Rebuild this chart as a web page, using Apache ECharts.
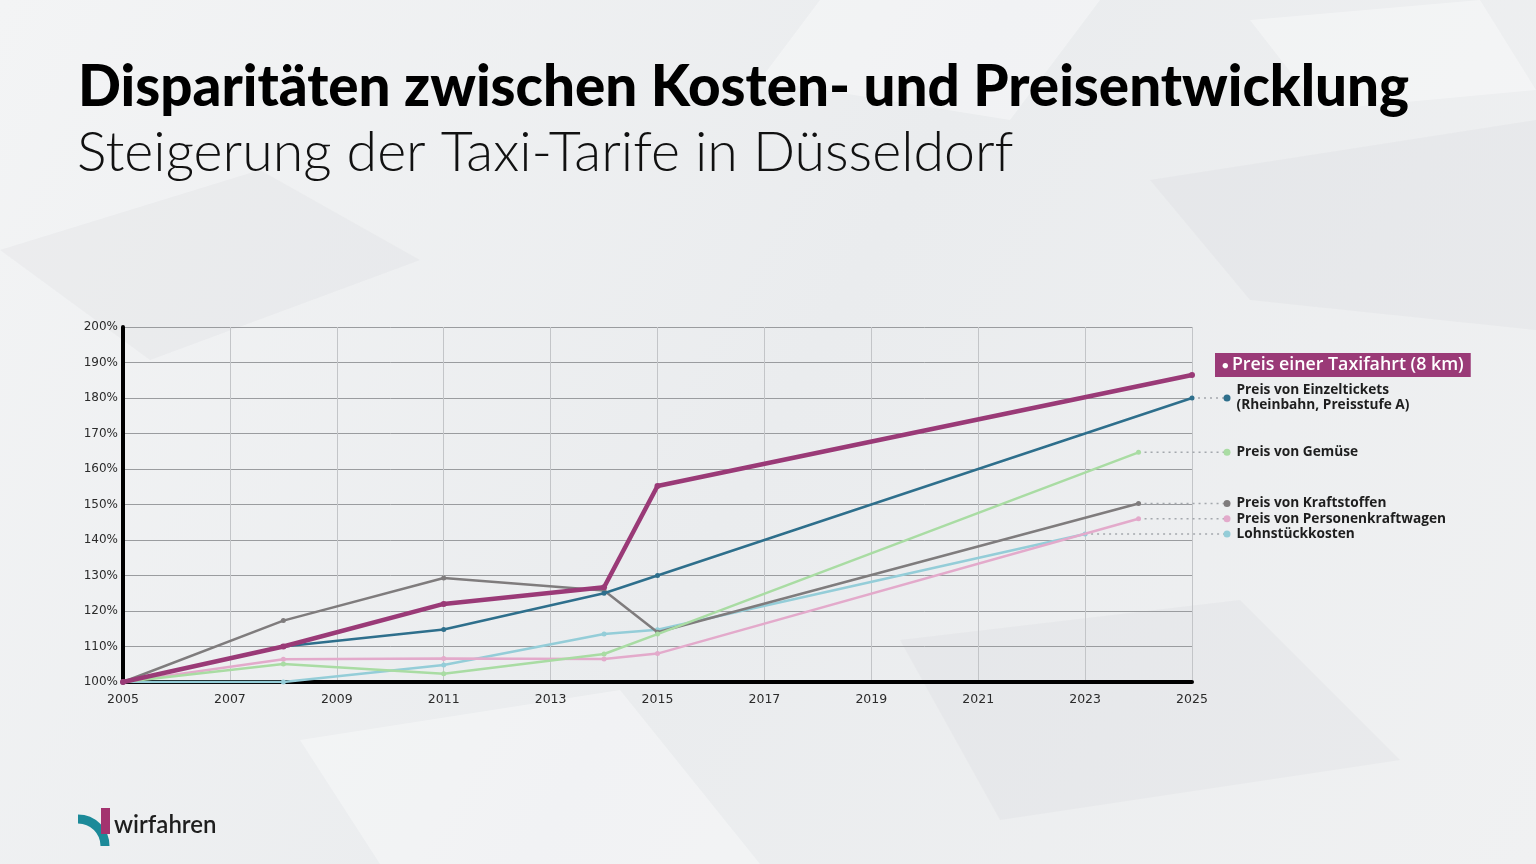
<!DOCTYPE html>
<html><head><meta charset="utf-8">
<script src="https://cdn.jsdelivr.net/npm/echarts@6/dist/echarts.min.js"></script>
<style>html,body{margin:0;padding:0;background:#eef0f2;}#c{width:1536px;height:864px;}</style>
</head><body><div id="c"></div>
<script>
// ---------- DATA ----------
const titleText = 'Disparitäten zwischen Kosten- und Preisentwicklung';
const subtitleText = 'Steigerung der Taxi-Tarife in Düsseldorf';
const startYear = 2005;
const endYear = 2025;
const yMin = 100, yMax = 200, yStep = 10;

const taxiYears   = [2005, 2008, 2011, 2014, 2015, 2025];
const taxiValues  = [100, 110, 122, 126.7, 155.2, 186.5];
const ticketYears = [2005, 2008, 2011, 2014, 2015, 2025];
const ticketValues= [100, 110, 114.8, 125, 130, 180];
const gemueseYears  = [2005, 2008, 2011, 2014, 2015, 2024];
const gemueseValues = [100, 105.1, 102.3, 107.9, 113.5, 164.7];
const kraftYears  = [2005, 2008, 2011, 2014, 2015, 2024];
const kraftValues = [100, 117.3, 129.3, 125.8, 114.0, 150.3];
const pkwYears    = [2005, 2008, 2011, 2014, 2015, 2024];
const pkwValues   = [100, 106.4, 106.6, 106.5, 108.0, 146.0];
const lohnYears   = [2005, 2008, 2011, 2014, 2015, 2023];
const lohnValues  = [100, 100, 104.8, 113.5, 114.7, 141.7];

const seriesNames = [
  'Preis einer Taxifahrt (8 km)',
  'Preis von Einzeltickets\n(Rheinbahn, Preisstufe A)',
  'Preis von Gemüse',
  'Preis von Kraftstoffen',
  'Preis von Personenkraftwagen',
  'Lohnstückkosten'
];

// ---------- STYLE ----------
const colors = ['#9a3a77', '#2e6f8c', '#a9dca3', '#7f7c7d', '#e3aacb', '#94cdd8'];
const widths = [4.5, 2.5, 2.5, 2.5, 2.5, 2.5];
const font = '"Open Sans", Lato, sans-serif';
const axisFont = '"DejaVu Sans", "Open Sans", sans-serif';

const gridL = 123, gridR = 1192, gridT = 327, gridB = 682;
const legendDotX = 1227;
const leaderMax = (endYear - startYear) * (legendDotX - gridL) / (gridR - gridL);

const sets = [
  [taxiYears, taxiValues], [ticketYears, ticketValues], [gemueseYears, gemueseValues],
  [kraftYears, kraftValues], [pkwYears, pkwValues], [lohnYears, lohnValues]
];

const series = [];
[5, 4, 3, 2, 1, 0].forEach(i => {
  const [ys, vs] = sets[i];
  const s = {
    type: 'line', name: seriesNames[i], xAxisIndex: 0, yAxisIndex: 0,
    data: ys.map((y, k) => [y - startYear, vs[k]]),
    symbol: 'circle', symbolSize: i === 0 ? 6 : 5, showSymbol: true,
    lineStyle: { color: colors[i], width: widths[i] },
    itemStyle: { color: colors[i] },
    z: 10 - i, animation: false, silent: true
  };
  if (i === 0) {
    s.endLabel = {
      show: true, distance: 0, offset: [23, -10], align: 'left', verticalAlign: 'middle',
      formatter: () => '{d|●} {t|' + seriesNames[0] + '}',
      backgroundColor: '#9a3a77', padding: [3, 7, 2, 7],
      rich: {
        d: { color: '#ffffff', fontSize: 11, fontFamily: font, lineHeight: 19 },
        t: { color: '#ffffff', fontSize: 17.8, fontWeight: 600, fontFamily: font, lineHeight: 19 }
      }
    };
  }
  series.push(s);
});
[1, 2, 3, 4, 5].forEach(i => {
  const [ys, vs] = sets[i];
  const lastX = ys[ys.length - 1] - startYear, lastV = vs[vs.length - 1];
  series.push({
    type: 'line', xAxisIndex: 1, yAxisIndex: 1, silent: true, animation: false,
    data: [
      { value: [lastX, lastV], symbol: 'none' },
      { value: [leaderMax, lastV], symbol: 'circle', symbolSize: 7,
        label: { show: true, position: 'right', distance: 6, formatter: seriesNames[i],
          color: '#1e1e1e', fontFamily: font, fontSize: 13.7, fontWeight: 700, lineHeight: 15 } }
    ],
    lineStyle: { color: '#a4a8ad', width: 1.4, type: [2, 4] },
    itemStyle: { color: colors[i] },
    z: 1
  });
});

// subtle background blocks (decoration only)
const bgBlocks = [
  [[0, 250], [260, 170], [420, 260], [150, 360]],
  [[820, 0], [1100, 0], [1010, 120], [760, 80]],
  [[1150, 180], [1536, 120], [1536, 330], [1250, 300]],
  [[300, 740], [620, 690], [760, 864], [380, 864]],
  [[900, 640], [1240, 600], [1400, 760], [1000, 820]],
  [[1250, 20], [1480, 0], [1536, 90], [1320, 110]]
];

const option = {
  backgroundColor: {
    type: 'linear', x: 0, y: 0, x2: 1, y2: 1,
    colorStops: [{ offset: 0, color: '#f3f4f5' }, { offset: 0.5, color: '#eaecee' }, { offset: 1, color: '#f0f1f2' }]
  },
  animation: false,
  grid: [
    { left: gridL, right: 1536 - gridR, top: gridT, bottom: 864 - gridB },
    { left: gridL, right: 1536 - legendDotX, top: gridT, bottom: 864 - gridB }
  ],
  xAxis: [
    {
      type: 'value', gridIndex: 0, min: 0, max: endYear - startYear, interval: 2,
      axisLine: { show: true, onZero: false, lineStyle: { color: '#000', width: 4 } },
      axisTick: { show: false },
      axisLabel: { formatter: v => String(v + startYear), color: '#2b2b2b', fontFamily: axisFont, fontSize: 12.5, margin: 11 },
      splitLine: { show: true, lineStyle: { color: '#c3c5c8', width: 1 } }
    },
    { type: 'value', gridIndex: 1, min: 0, max: leaderMax, show: false }
  ],
  yAxis: [
    {
      type: 'value', gridIndex: 0, min: yMin, max: yMax, interval: yStep,
      axisLine: { show: true, lineStyle: { color: '#000', width: 4 } },
      axisTick: { show: false },
      axisLabel: { formatter: '{value}%', color: '#2b2b2b', fontFamily: axisFont, fontSize: 12, margin: 5, verticalAlign: 'middle', padding: [0, 0, 7, 0] },
      splitLine: { show: true, lineStyle: { color: '#9a9c9f', width: 1 } }
    },
    { type: 'value', gridIndex: 1, min: yMin, max: yMax, show: false }
  ],
  graphic: bgBlocks.map((pts, k) => ({
    type: 'polygon', z: -10, silent: true, shape: { points: pts },
    style: { fill: k % 2 ? 'rgba(255,255,255,0.35)' : 'rgba(200,203,207,0.15)' }
  })).concat([
    { type: 'text', left: 78, top: 59, z: 100,
      style: { text: titleText, fill: '#000', font: '900 56.5px Lato, "Open Sans", sans-serif' } },
    { type: 'text', left: 77, top: 125, z: 100,
      style: { text: subtitleText, fill: '#111', font: '300 55.5px Lato, "Open Sans", sans-serif' } },
    { type: 'arc', z: 100, shape: { cx: 78, cy: 846, r: 27, startAngle: -Math.PI / 2, endAngle: 0 },
      style: { stroke: '#1c8a99', lineWidth: 9, fill: null } },
    { type: 'rect', z: 100, shape: { x: 101, y: 808, width: 9, height: 26 }, style: { fill: '#a3336f' } },
    { type: 'text', left: 114, top: 813, z: 100,
      style: { text: 'wirfahren', fill: '#1e1e1e', font: '600 24px Lato, "Open Sans", sans-serif' } }
  ]),
  series: series
};

const chart = echarts.init(document.getElementById('c'), null, { renderer: 'canvas' });
chart.setOption(option);
</script>
</body></html>
